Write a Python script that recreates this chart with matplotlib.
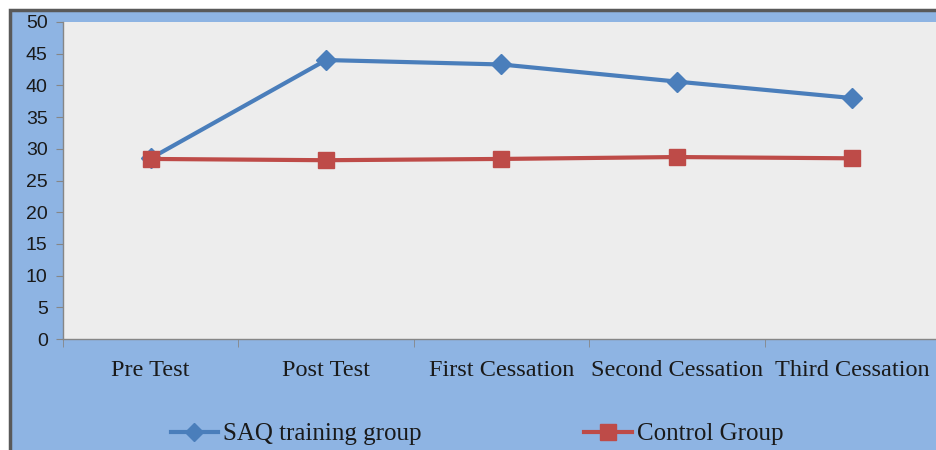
import matplotlib.pyplot as plt
from matplotlib.patches import Rectangle
from matplotlib.lines import Line2D

# ------------------------------ chart data ------------------------------ #
categories = ["Pre Test", "Post Test", "First Cessation", "Second Cessation", "Third Cessation"]
saq_values = [28.5, 44.0, 43.3, 40.6, 38.0]
control_values = [28.4, 28.2, 28.4, 28.7, 28.5]
y_ticks = list(range(0, 51, 5))

# ------------------------------ colours ------------------------------ #
panel_blue = "#8EB4E3"
plot_grey = "#EDEDED"
saq_color = "#4A7EBB"
control_color = "#BE4B48"

W, H = 937, 450
fig = plt.figure(figsize=(W / 100, H / 100), dpi=100, facecolor="white")

# outer blue panel with dark top/left border (right and bottom edges run off the canvas)
fig.patches.append(Rectangle((10 / W, -0.05), 1.1, 1.05 - 10 / H, transform=fig.transFigure,
                             facecolor=panel_blue, edgecolor="#595959", linewidth=2.5, zorder=-5))

ax = fig.add_axes([63 / W, 1 - 339 / H, (940 - 63) / W, (339 - 22) / H])
ax.set_zorder(2)
ax.set_facecolor(plot_grey)

x = list(range(len(categories)))
ax.plot(x, saq_values, color=saq_color, linewidth=3, marker="D", markersize=10,
        label="SAQ training group", clip_on=False, zorder=3)
ax.plot(x, control_values, color=control_color, linewidth=3, marker="s", markersize=12,
        label="Control Group", clip_on=False, zorder=3)

ax.set_xlim(-0.5, len(categories) - 0.5)
ax.set_ylim(0, 50)
ax.set_yticks(y_ticks)
ax.set_xticks(x)
ax.set_xticklabels(categories, fontfamily="Liberation Serif", fontsize=17.5, color="#1a1a1a")
ax.tick_params(axis="x", length=0, pad=15)
ax.set_xticks([i + 0.5 for i in range(-1, len(categories))], minor=True)
ax.tick_params(axis="x", which="minor", length=6, color="#868686")
ax.tick_params(axis="y", length=5, color="#868686", labelsize=14, pad=6, labelcolor="#1a1a1a")
for lbl in ax.get_yticklabels():
    lbl.set_fontfamily("Liberation Sans")

for side in ["top", "right"]:
    ax.spines[side].set_visible(False)
for side in ["left", "bottom"]:
    ax.spines[side].set_color("#868686")
    ax.spines[side].set_linewidth(1)

handles = [
    Line2D([], [], color=saq_color, linewidth=3, marker="D", markersize=9),
    Line2D([], [], color=control_color, linewidth=3, marker="s", markersize=11),
]
fig.legend(handles, ["SAQ training group", "Control Group"], loc="center",
           bbox_to_anchor=(0.509, 1 - 434 / H), ncol=2, frameon=False,
           prop={"family": "Liberation Serif", "size": 18}, columnspacing=6.5,
           handlelength=1.9, handletextpad=0.2, labelcolor="#1a1a1a")

fig.savefig("out.png", dpi=100, facecolor=fig.get_facecolor())
